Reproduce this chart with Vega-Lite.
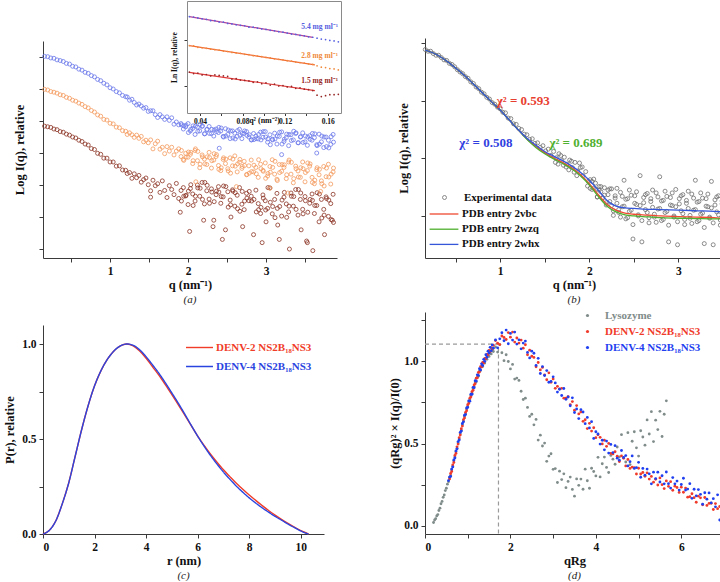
{
"$schema":"https://vega.github.io/schema/vega-lite/v6.json",
"background":"white",
"padding":{"left":3,"top":1,"right":0,"bottom":0},
"resolve":{"scale":{"color":"independent","fill":"independent","stroke":"independent","shape":"independent","strokeDash":"independent"}},
"config":{
 "font":"Liberation Serif",
 "view":{"stroke":null},
 "axis":{"labelFont":"Liberation Serif","titleFont":"Liberation Serif","labelFontWeight":"bold","titleFontWeight":"bold","labelFontSize":11.5,"titleFontSize":12.5,"labelColor":"#111","titleColor":"#111","domainColor":"#3a3a3a","tickColor":"#3a3a3a","tickSize":4,"grid":false,"labelPadding":3,"titlePadding":2},
 "legend":{"labelFont":"Liberation Serif","labelFontWeight":"bold","labelFontSize":11,"labelColor":"#111"},
 "title":{"font":"Liberation Serif","fontSize":11,"fontWeight":"normal","fontStyle":"italic","color":"#222","orient":"bottom","offset":3}
},
"datasets":{
"a":[
{"q":0.16,"b":7.02,"o":5.99,"r":4.84},{"q":0.20,"b":7.01,"o":5.97,"r":4.82},{"q":0.24,"b":6.97,"o":5.92,"r":4.80},{"q":0.28,"b":6.96,"o":5.90,"r":4.75},{"q":0.32,"b":6.91,"o":5.87,"r":4.73},{"q":0.36,"b":6.89,"o":5.82,"r":4.67},{"q":0.40,"b":6.86,"o":5.80,"r":4.65},{"q":0.44,"b":6.80,"o":5.74,"r":4.59},{"q":0.48,"b":6.78,"o":5.71,"r":4.56},{"q":0.52,"b":6.71,"o":5.65,"r":4.50},{"q":0.56,"b":6.69,"o":5.62,"r":4.47},{"q":0.60,"b":6.62,"o":5.56,"r":4.40},{"q":0.64,"b":6.59,"o":5.52,"r":4.36},{"q":0.68,"b":6.52,"o":5.45,"r":4.28},{"q":0.72,"b":6.49,"o":5.41,"r":4.25},{"q":0.76,"b":6.42,"o":5.33,"r":4.14},{"q":0.80,"b":6.38,"o":5.28,"r":4.11},{"q":0.84,"b":6.30,"o":5.19,"r":3.99},{"q":0.88,"b":6.26,"o":5.15,"r":3.96},{"q":0.92,"b":6.18,"o":5.05,"r":3.84},{"q":0.96,"b":6.13,"o":5.03,"r":3.84},{"q":1.00,"b":6.04,"o":4.93,"r":3.72},{"q":1.04,"b":6.00,"o":4.91,"r":3.72},{"q":1.08,"b":5.92,"o":4.81,"r":3.59},{"q":1.12,"b":5.88,"o":4.79,"r":3.60},{"q":1.16,"b":5.80,"o":4.70,"r":3.47},{"q":1.20,"b":5.76,"o":4.68,"r":3.46},
{"q":1.22,"b":5.75,"o":4.58,"r":3.36},{"q":1.25,"b":5.65,"o":4.63,"r":3.39},{"q":1.28,"b":5.68,"o":4.57,"r":3.21},{"q":1.31,"b":5.58,"o":4.49,"r":3.35},{"q":1.34,"b":5.50,"o":4.56,"r":3.23},{"q":1.37,"b":5.53,"o":4.46,"r":3.30},{"q":1.40,"b":5.47,"o":4.52,"r":3.09},{"q":1.43,"b":5.40,"o":4.35,"r":3.17},{"q":1.46,"b":5.42,"o":4.40,"r":3.22},{"q":1.49,"b":5.30,"o":4.32,"r":3.01},
{"q":1.52,"b":5.32,"o":4.41,"r":2.82},{"q":1.55,"b":5.32,"o":4.13,"r":3.15},{"q":1.58,"b":5.20,"o":4.29,"r":2.98},{"q":1.61,"b":5.11,"o":4.37,"r":3.04},{"q":1.64,"b":5.20,"o":4.12,"r":2.77},{"q":1.67,"b":5.13,"o":4.18,"r":3.13},{"q":1.70,"b":5.05,"o":3.98,"r":2.83},{"q":1.73,"b":5.13,"o":4.20,"r":2.61},{"q":1.76,"b":5.02,"o":4.06,"r":2.98},{"q":1.79,"b":5.10,"o":4.18,"r":2.86},{"q":1.82,"b":4.90,"o":3.94,"r":2.70},{"q":1.85,"b":4.97,"o":4.06,"r":3.05},{"q":1.88,"b":4.88,"o":4.13,"r":2.58},{"q":1.91,"b":4.92,"o":3.89,"r":2.83},{"q":1.94,"b":4.75,"o":3.80,"r":2.92},{"q":1.97,"b":4.82,"o":3.99,"r":2.66},
{"q":2.00,"b":4.92,"o":3.87,"r":2.39},{"q":2.03,"b":4.69,"o":3.96,"r":2.89},{"q":2.06,"b":4.77,"o":3.67,"r":2.72},{"q":2.09,"b":4.58,"o":4.08,"r":2.50},{"q":2.12,"b":4.81,"o":3.76,"r":3.00},{"q":2.15,"b":4.69,"o":3.54,"r":2.65},{"q":2.18,"b":4.83,"o":3.94,"r":3.08},{"q":2.21,"b":4.60,"o":3.81,"r":2.41},{"q":2.24,"b":4.73,"o":3.64,"r":2.82},{"q":2.27,"b":4.83,"o":4.02,"r":2.56},{"q":2.30,"b":4.61,"o":3.53,"r":2.88},{"q":2.33,"b":4.53,"o":3.78,"r":1.90},{"q":2.36,"b":4.75,"o":3.89,"r":2.70},{"q":2.39,"b":4.64,"o":3.61,"r":2.95},{"q":2.42,"b":4.69,"o":3.45,"r":2.43},{"q":2.45,"b":4.52,"o":3.80,"r":2.63},{"q":2.48,"b":4.76,"o":3.67,"r":1.60},{"q":2.51,"b":4.58,"o":3.51,"r":2.79},{"q":2.54,"b":4.45,"o":3.85,"r":2.53},{"q":2.57,"b":4.69,"o":3.60,"r":2.85},{"q":2.60,"b":4.62,"o":3.91,"r":2.34},{"q":2.63,"b":4.52,"o":3.41,"r":2.68},{"q":2.66,"b":4.74,"o":3.71,"r":2.92},{"q":2.69,"b":4.45,"o":3.52,"r":2.40},{"q":2.72,"b":4.61,"o":3.74,"r":2.23},{"q":2.75,"b":4.67,"o":3.32,"r":2.74},{"q":2.78,"b":4.50,"o":3.60,"r":2.51},{"q":2.81,"b":4.41,"o":3.78,"r":2.65},{"q":2.84,"b":4.61,"o":3.41,"r":1.45},{"q":2.87,"b":4.53,"o":3.55,"r":2.84},{"q":2.90,"b":4.44,"o":3.24,"r":2.42},{"q":2.93,"b":4.65,"o":3.65,"r":2.11},{"q":2.96,"b":4.49,"o":3.46,"r":2.69},{"q":2.99,"b":4.67,"o":3.69,"r":2.51},
{"q":3.02,"b":4.34,"o":3.28,"r":2.27},{"q":3.05,"b":4.57,"o":3.58,"r":2.91},{"q":3.08,"b":4.43,"o":3.79,"r":2.10},{"q":3.11,"b":4.62,"o":3.34,"r":2.55},{"q":3.14,"b":4.28,"o":3.18,"r":2.74},{"q":3.17,"b":4.52,"o":3.64,"r":1.30},{"q":3.20,"b":4.66,"o":3.43,"r":2.03},{"q":3.23,"b":4.36,"o":3.55,"r":2.62},{"q":3.26,"b":4.48,"o":3.20,"r":2.41},{"q":3.29,"b":4.23,"o":3.72,"r":2.16},{"q":3.32,"b":4.57,"o":3.34,"r":2.75},{"q":3.35,"b":4.41,"o":3.07,"r":2.34},{"q":3.38,"b":4.61,"o":3.59,"r":2.86},{"q":3.41,"b":4.32,"o":3.44,"r":2.06},{"q":3.44,"b":4.50,"o":3.24,"r":2.55},{"q":3.47,"b":4.63,"o":3.72,"r":2.24},{"q":3.50,"b":4.35,"o":3.10,"r":2.64},{"q":3.53,"b":4.24,"o":3.45,"r":1.20},{"q":3.56,"b":4.54,"o":3.59,"r":2.43},{"q":3.59,"b":4.40,"o":3.24,"r":2.72},{"q":3.62,"b":4.48,"o":3.04,"r":2.11},{"q":3.65,"b":4.26,"o":3.48,"r":2.36},{"q":3.68,"b":4.59,"o":3.32,"r":1.85},{"q":3.71,"b":4.35,"o":3.13,"r":2.55},{"q":3.74,"b":4.17,"o":3.58,"r":2.24},{"q":3.77,"b":4.50,"o":3.26,"r":2.63},{"q":3.80,"b":4.40,"o":3.65,"r":2.02},{"q":3.83,"b":4.27,"o":3.03,"r":2.42},{"q":3.86,"b":4.58,"o":3.41,"r":2.71},
{"q":1.915,"b":4.88,"o":4.08,"r":2.50},{"q":1.945,"b":4.85,"o":3.77,"r":2.65},{"q":1.975,"b":4.87,"o":3.87,"r":2.68},{"q":2.005,"b":4.64,"o":4.03,"r":2.81},{"q":2.035,"b":4.74,"o":4.02,"r":3.01},{"q":2.065,"b":4.85,"o":3.76,"r":2.36},{"q":2.095,"b":4.84,"o":4.13,"r":2.65},{"q":2.125,"b":4.68,"o":4.05,"r":2.91},{"q":2.155,"b":4.89,"o":3.65,"r":2.90},{"q":2.185,"b":4.85,"o":3.88,"r":2.55},{"q":2.215,"b":4.60,"o":3.66,"r":3.08},{"q":2.245,"b":4.74,"o":3.88,"r":2.99},{"q":2.275,"b":4.61,"o":3.86,"r":2.43},{"q":2.305,"b":4.74,"o":3.76,"r":2.78},{"q":2.335,"b":4.72,"o":3.98,"r":2.48},{"q":2.365,"b":4.67,"o":3.95,"r":2.81},{"q":2.395,"b":4.80,"o":3.49,"r":2.78},{"q":2.425,"b":4.78,"o":3.54,"r":2.64},{"q":2.455,"b":4.50,"o":3.85,"r":2.97},{"q":2.485,"b":4.53,"o":3.81,"r":2.95},{"q":2.515,"b":4.72,"o":3.44,"r":2.31},{"q":2.545,"b":4.69,"o":3.37,"r":2.38},{"q":2.575,"b":4.47,"o":3.81,"r":2.81},{"q":2.605,"b":4.44,"o":3.59,"r":2.76},{"q":2.635,"b":4.70,"o":3.66,"r":2.26},{"q":2.665,"b":4.56,"o":3.80,"r":2.18},{"q":2.695,"b":4.61,"o":3.58,"r":2.80},{"q":2.725,"b":4.69,"o":3.61,"r":2.50},{"q":2.755,"b":4.55,"o":3.33,"r":2.59},{"q":2.785,"b":4.57,"o":3.37,"r":2.80},{"q":2.815,"b":4.41,"o":3.42,"r":2.50},{"q":2.845,"b":4.42,"o":3.62,"r":2.55},{"q":2.875,"b":4.45,"o":3.35,"r":2.16},{"q":2.905,"b":4.58,"o":3.79,"r":2.23},{"q":2.935,"b":4.41,"o":3.51,"r":2.30},{"q":2.965,"b":4.67,"o":3.43,"r":2.59},{"q":2.995,"b":4.50,"o":3.21,"r":2.22},{"q":3.025,"b":4.44,"o":3.36,"r":2.92},{"q":3.055,"b":4.26,"o":3.40,"r":2.46},{"q":3.085,"b":4.41,"o":3.55,"r":2.33},{"q":3.115,"b":4.44,"o":3.74,"r":1.98},{"q":3.145,"b":4.53,"o":3.14,"r":2.27},{"q":3.175,"b":4.65,"o":3.39,"r":2.33},{"q":3.205,"b":4.28,"o":3.64,"r":2.53},{"q":3.235,"b":4.43,"o":3.63,"r":2.77},{"q":3.265,"b":4.59,"o":3.32,"r":1.99},{"q":3.295,"b":4.58,"o":3.78,"r":2.34},{"q":3.325,"b":4.39,"o":3.71,"r":2.65},{"q":3.355,"b":4.68,"o":3.20,"r":2.64},{"q":3.385,"b":4.63,"o":3.51,"r":2.24},{"q":3.415,"b":4.32,"o":3.25,"r":2.86},{"q":3.445,"b":4.51,"o":3.54,"r":2.75},{"q":3.475,"b":4.33,"o":3.51,"r":2.10},{"q":3.505,"b":4.53,"o":3.39,"r":2.51},{"q":3.535,"b":4.50,"o":3.69,"r":2.15},{"q":3.565,"b":4.43,"o":3.66,"r":2.55},{"q":3.595,"b":4.61,"o":3.08,"r":2.52},{"q":3.625,"b":4.60,"o":3.15,"r":2.36},{"q":3.655,"b":4.23,"o":3.54,"r":2.76},{"q":3.685,"b":4.28,"o":3.49,"r":2.72},{"q":3.715,"b":4.53,"o":3.04,"r":1.97},{"q":3.745,"b":4.50,"o":2.97,"r":2.06},{"q":3.775,"b":4.20,"o":3.53,"r":2.58},{"q":3.805,"b":4.16,"o":3.25,"r":2.53},{"q":3.835,"b":4.51,"o":3.34,"r":1.92},{"q":3.865,"b":4.34,"o":3.53,"r":1.83},
{"q":2.02,"r":1.55},{"q":2.20,"r":1.90},{"q":2.44,"r":1.30},{"q":2.70,"r":1.70},{"q":2.95,"r":1.20},{"q":3.15,"r":1.75},{"q":3.30,"r":1.00},{"q":3.45,"r":1.60},{"q":3.60,"r":0.95},{"q":3.75,"r":1.45},{"q":3.85,"r":1.90},{"q":2.55,"r":2.00},{"q":1.90,"r":2.15},{"q":3.00,"r":1.85},{"q":1.52,"r":2.62},{"q":2.32,"r":1.70},{"q":3.52,"r":1.25},{"q":2.10,"o":3.10},{"q":2.62,"o":2.95},{"q":3.28,"o":2.75},{"q":3.70,"o":2.80},{"q":3.05,"o":2.90},{"q":2.40,"b":4.15},{"q":3.20,"b":3.95},{"q":3.65,"b":4.00}
],
"ai":[
{"x":0.030,"b":1.51,"o":0.88,"r":0.30},{"x":0.034,"b":1.50,"o":0.87,"r":0.27},{"x":0.038,"b":1.48,"o":0.84,"r":0.28},{"x":0.042,"b":1.46,"o":0.83,"r":0.24},{"x":0.046,"b":1.45,"o":0.82,"r":0.25},{"x":0.050,"b":1.42,"o":0.80,"r":0.22},{"x":0.054,"b":1.42,"o":0.79,"r":0.24},{"x":0.058,"b":1.39,"o":0.78,"r":0.23},{"x":0.062,"b":1.39,"o":0.76,"r":0.22},{"x":0.066,"b":1.36,"o":0.75,"r":0.21},{"x":0.070,"b":1.35,"o":0.73,"r":0.15},{"x":0.074,"b":1.33,"o":0.72,"r":0.16},{"x":0.078,"b":1.32,"o":0.71,"r":0.13},{"x":0.082,"b":1.31,"o":0.69,"r":0.12},{"x":0.086,"b":1.28,"o":0.68,"r":0.11},{"x":0.090,"b":1.28,"o":0.66,"r":0.08},{"x":0.094,"b":1.26,"o":0.65,"r":0.09},{"x":0.098,"b":1.24,"o":0.64,"r":0.05},{"x":0.102,"b":1.23,"o":0.62,"r":0.07},{"x":0.106,"b":1.21,"o":0.61,"r":0.02},{"x":0.110,"b":1.20,"o":0.59,"r":0.04},{"x":0.114,"b":1.18,"o":0.58,"r":0.00},{"x":0.118,"b":1.17,"o":0.57,"r":0.01},{"x":0.122,"b":1.15,"o":0.55,"r":-0.02},{"x":0.126,"b":1.13,"o":0.54,"r":-0.01},{"x":0.130,"b":1.12,"o":0.52,"r":-0.05},{"x":0.134,"b":1.10,"o":0.51,"r":-0.04},{"x":0.138,"b":1.09,"o":0.50,"r":-0.07},{"x":0.142,"b":1.07,"o":0.48,"r":-0.08},{"x":0.146,"b":1.06,"o":0.47,"r":-0.10},{"x":0.150,"b":1.04,"o":0.44,"r":-0.20},{"x":0.154,"b":1.02,"o":0.41,"r":-0.23},{"x":0.158,"b":1.01,"o":0.40,"r":-0.21},{"x":0.162,"b":0.99,"o":0.38,"r":-0.19},{"x":0.166,"b":0.98,"o":0.37,"r":-0.19},{"x":0.170,"b":0.96,"o":0.35,"r":-0.18}
],
"aif":[
{"s":"b","x":0.030,"v":1.507},{"s":"b","x":0.146,"v":1.059},{"s":"o","x":0.030,"v":0.876},{"s":"o","x":0.148,"v":0.461},{"s":"r","x":0.030,"v":0.297},{"s":"r","x":0.148,"v":-0.10}
],
"ail":[
{"s":"b","x":0.1525,"v":1.28,"t":"5.4 mg ml⁻¹"},{"s":"o","x":0.1525,"v":0.65,"t":"2.8 mg ml⁻¹"},{"s":"r","x":0.1525,"v":0.11,"t":"1.5 mg ml⁻¹"}
],
"b":[
{"q":0.16,"e":3.89},{"q":0.19,"e":3.86},{"q":0.22,"e":3.86},{"q":0.25,"e":3.82},{"q":0.28,"e":3.79},{"q":0.31,"e":3.79},{"q":0.34,"e":3.75},{"q":0.37,"e":3.71},{"q":0.40,"e":3.70},{"q":0.43,"e":3.65},{"q":0.46,"e":3.63},{"q":0.49,"e":3.59},{"q":0.52,"e":3.54},{"q":0.55,"e":3.50},{"q":0.58,"e":3.47},{"q":0.61,"e":3.42},{"q":0.64,"e":3.39},{"q":0.67,"e":3.33},{"q":0.70,"e":3.30},{"q":0.73,"e":3.24},{"q":0.76,"e":3.21},{"q":0.79,"e":3.15},{"q":0.82,"e":3.12},{"q":0.85,"e":3.06},{"q":0.88,"e":3.03},{"q":0.91,"e":2.97},{"q":0.94,"e":2.94},{"q":0.97,"e":2.89},{"q":1.00,"e":2.86},{"q":1.03,"e":2.80},{"q":1.06,"e":2.79},{"q":1.09,"e":2.70},{"q":1.12,"e":2.69},{"q":1.15,"e":2.60},{"q":1.18,"e":2.59},{"q":1.21,"e":2.52},{"q":1.24,"e":2.50},{"q":1.27,"e":2.42},{"q":1.30,"e":2.41},{"q":1.33,"e":2.33},{"q":1.36,"e":2.34},{"q":1.39,"e":2.26},{"q":1.42,"e":2.27},{"q":1.45,"e":2.19},{"q":1.48,"e":2.22},{"q":1.51,"e":2.13},{"q":1.54,"e":2.16},{"q":1.57,"e":2.05},{"q":1.60,"e":2.12},{"q":1.63,"e":2.01},{"q":1.66,"e":2.08},{"q":1.69,"e":1.96},{"q":1.72,"e":2.02},{"q":1.75,"e":1.90},{"q":1.78,"e":1.97},{"q":1.81,"e":1.84},{"q":1.84,"e":1.93},{"q":1.87,"e":1.78},{"q":1.90,"e":1.84},{"q":1.93,"e":1.70},{"q":1.96,"e":1.77},{"q":1.99,"e":1.60},
{"q":1.62,"e":1.93},{"q":1.65,"e":1.90},{"q":1.68,"e":2.05},{"q":1.71,"e":1.88},{"q":1.74,"e":1.85},{"q":1.77,"e":1.80},{"q":1.80,"e":1.95},{"q":1.83,"e":1.76},{"q":1.86,"e":1.70},{"q":1.89,"e":1.92},{"q":1.92,"e":1.85},{"q":1.98,"e":1.52},
{"q":2.01,"e":1.63,"e2":1.48},{"q":2.03,"e":1.46,"e2":1.60},{"q":2.05,"e":1.64,"e2":1.48},{"q":2.07,"e":1.46,"e2":1.57},{"q":2.09,"e":1.33,"e2":1.33},{"q":2.11,"e":1.51,"e2":1.45},{"q":2.13,"e":1.42,"e2":1.51},{"q":2.15,"e":1.32,"e2":1.31},{"q":2.17,"e":1.49,"e2":1.36},{"q":2.19,"e":1.23,"e2":1.19},{"q":2.21,"e":1.37,"e2":1.45},{"q":2.23,"e":1.47,"e2":1.25},{"q":2.25,"e":1.18,"e2":1.47},{"q":2.27,"e":1.01,"e2":1.09},{"q":2.29,"e":1.35,"e2":1.31},{"q":2.31,"e":1.22,"e2":1.48},{"q":2.33,"e":1.06,"e2":1.11},{"q":2.35,"e":1.41,"e2":0.98},{"q":2.37,"e":1.16,"e2":1.34},{"q":2.39,"e":1.62,"e2":1.17},{"q":2.41,"e":0.95,"e2":1.29},{"q":2.43,"e":1.30,"e2":0.97},{"q":2.45,"e":1.08,"e2":1.45},{"q":2.47,"e":1.36,"e2":1.10},{"q":2.49,"e":0.60,"e2":0.85},{"q":2.51,"e":1.22,"e2":1.35},{"q":2.53,"e":1.42,"e2":1.20},{"q":2.55,"e":1.00,"e2":1.02},{"q":2.57,"e":1.18,"e2":1.70},{"q":2.59,"e":0.55,"e2":0.92},{"q":2.61,"e":1.32,"e2":1.23},{"q":2.63,"e":1.11,"e2":1.37},{"q":2.65,"e":1.39,"e2":1.06},{"q":2.67,"e":0.97,"e2":0.88},{"q":2.69,"e":1.25,"e2":1.30},{"q":2.71,"e":1.45,"e2":1.15},{"q":2.73,"e":1.03,"e2":0.98},{"q":2.75,"e":0.89,"e2":1.40},{"q":2.77,"e":1.33,"e2":1.12},{"q":2.79,"e":1.13,"e2":1.68},{"q":2.81,"e":1.26,"e2":0.92},{"q":2.83,"e":0.94,"e2":1.27},{"q":2.85,"e":1.43,"e2":1.06},{"q":2.87,"e":1.08,"e2":1.34},{"q":2.89,"e":0.55,"e2":0.84},{"q":2.91,"e":1.32,"e2":1.19},{"q":2.93,"e":1.18,"e2":1.40},{"q":2.95,"e":1.00,"e2":0.98},{"q":2.97,"e":1.46,"e2":1.16},{"q":2.99,"e":0.90,"e2":0.50},{"q":3.01,"e":1.21,"e2":1.30},{"q":3.03,"e":1.35,"e2":1.09},{"q":3.05,"e":1.04,"e2":1.37},{"q":3.07,"e":0.85,"e2":0.94},{"q":3.09,"e":1.27,"e2":1.22},{"q":3.11,"e":1.13,"e2":1.43},{"q":3.13,"e":0.96,"e2":1.01},{"q":3.15,"e":1.38,"e2":0.87},{"q":3.17,"e":1.10,"e2":1.31},{"q":3.19,"e":1.62,"e2":1.11},{"q":3.21,"e":0.90,"e2":1.24},{"q":3.23,"e":1.25,"e2":0.92},{"q":3.25,"e":1.03,"e2":1.40},{"q":3.27,"e":1.31,"e2":1.05},{"q":3.29,"e":0.52,"e2":0.80},{"q":3.31,"e":1.17,"e2":1.30},{"q":3.33,"e":1.38,"e2":1.16},{"q":3.35,"e":0.96,"e2":0.98},{"q":3.37,"e":1.14,"e2":1.60},{"q":3.39,"e":0.50,"e2":0.88},{"q":3.41,"e":1.28,"e2":1.19},{"q":3.43,"e":1.07,"e2":1.33},{"q":3.45,"e":1.35,"e2":1.02},{"q":3.47,"e":0.93,"e2":0.84},{"q":3.49,"e":1.21,"e2":1.26}
],
"bl":[
{"q":0.16,"r":3.88,"g":3.88,"b":3.88},{"q":0.2,"r":3.86,"g":3.86,"b":3.86},{"q":0.3,"r":3.79,"g":3.79,"b":3.79},{"q":0.4,"r":3.69,"g":3.69,"b":3.69},{"q":0.5,"r":3.57,"g":3.57,"b":3.57},{"q":0.6,"r":3.44,"g":3.44,"b":3.44},{"q":0.7,"r":3.29,"g":3.29,"b":3.29},{"q":0.8,"r":3.14,"g":3.14,"b":3.14},{"q":0.9,"r":2.99,"g":2.99,"b":2.99},{"q":1.0,"r":2.84,"g":2.84,"b":2.84},{"q":1.1,"r":2.67,"g":2.67,"b":2.67},{"q":1.2,"r":2.50,"g":2.50,"b":2.50},{"q":1.3,"r":2.34,"g":2.33,"b":2.35},{"q":1.4,"r":2.21,"g":2.19,"b":2.23},{"q":1.5,"r":2.10,"g":2.08,"b":2.12},{"q":1.6,"r":2.01,"g":1.99,"b":2.04},{"q":1.7,"r":1.93,"g":1.91,"b":1.96},{"q":1.8,"r":1.84,"g":1.82,"b":1.87},{"q":1.9,"r":1.72,"g":1.70,"b":1.76},{"q":2.0,"r":1.56,"g":1.54,"b":1.62},{"q":2.1,"r":1.37,"g":1.34,"b":1.45},{"q":2.2,"r":1.20,"g":1.17,"b":1.27},{"q":2.3,"r":1.10,"g":1.07,"b":1.17},{"q":2.4,"r":1.05,"g":1.02,"b":1.14},{"q":2.5,"r":1.03,"g":1.00,"b":1.13},{"q":2.6,"r":1.02,"g":0.99,"b":1.12},{"q":2.8,"r":1.00,"g":0.97,"b":1.11},{"q":3.0,"r":0.99,"g":0.96,"b":1.10},{"q":3.2,"r":0.98,"g":0.955,"b":1.09},{"q":3.4,"r":0.97,"g":0.95,"b":1.08},{"q":3.5,"r":0.96,"g":0.95,"b":1.07}
],
"bt":[
{"q":1.26,"v":3.0,"t":"χ² = 0.593","m":"r"},{"q":0.84,"v":2.27,"t":"χ² = 0.508","m":"b"},{"q":1.85,"v":2.27,"t":"χ² = 0.689","m":"g"}
],
"c":[
{"r":0,"a":0,"b":0},{"r":0.25,"a":0.02,"b":0.02},{"r":0.5,"a":0.07,"b":0.07},{"r":0.75,"a":0.16,"b":0.16},{"r":1.0,"a":0.27,"b":0.27},{"r":1.25,"a":0.41,"b":0.41},{"r":1.5,"a":0.55,"b":0.55},{"r":1.75,"a":0.675,"b":0.675},{"r":2.0,"a":0.78,"b":0.78},{"r":2.25,"a":0.86,"b":0.86},{"r":2.5,"a":0.92,"b":0.92},{"r":2.75,"a":0.963,"b":0.963},{"r":3.0,"a":0.99,"b":0.99},{"r":3.25,"a":1.0,"b":1.0},{"r":3.5,"a":0.99,"b":0.993},{"r":3.75,"a":0.963,"b":0.969},{"r":4.0,"a":0.925,"b":0.933},{"r":4.25,"a":0.88,"b":0.89},{"r":4.5,"a":0.835,"b":0.845},{"r":4.75,"a":0.785,"b":0.795},{"r":5.0,"a":0.733,"b":0.742},{"r":5.25,"a":0.68,"b":0.688},{"r":5.5,"a":0.625,"b":0.631},{"r":5.75,"a":0.57,"b":0.572},{"r":6.0,"a":0.515,"b":0.515},{"r":6.25,"a":0.466,"b":0.462},{"r":6.5,"a":0.42,"b":0.413},{"r":6.75,"a":0.378,"b":0.368},{"r":7.0,"a":0.338,"b":0.326},{"r":7.25,"a":0.302,"b":0.288},{"r":7.5,"a":0.267,"b":0.252},{"r":7.75,"a":0.235,"b":0.22},{"r":8.0,"a":0.205,"b":0.19},{"r":8.25,"a":0.177,"b":0.163},{"r":8.5,"a":0.15,"b":0.138},{"r":8.75,"a":0.124,"b":0.115},{"r":9.0,"a":0.1,"b":0.093},{"r":9.25,"a":0.077,"b":0.073},{"r":9.5,"a":0.056,"b":0.053},{"r":9.75,"a":0.036,"b":0.034},{"r":10.0,"a":0.018,"b":0.016},{"r":10.25,"a":0.003,"b":0.002},{"r":10.3,"a":0,"b":0}
],
"d":[
{"x":0.2,"a":0.02},{"x":0.225,"a":0.035},{"x":0.25,"a":0.043},{"x":0.275,"a":0.06},{"x":0.3,"a":0.068},{"x":0.325,"a":0.093},{"x":0.35,"a":0.107},{"x":0.375,"a":0.134},{"x":0.4,"a":0.148},{"x":0.425,"a":0.173},{"x":0.45,"a":0.187},{"x":0.475,"a":0.214},{"x":0.5,"a":0.228},{"x":0.525,"a":0.253},{"x":0.55,"a":0.268,"c":0.275},
{"x":0.575,"a":0.293,"b":0.285,"c":0.296},{"x":0.6,"a":0.306,"b":0.318,"c":0.30},{"x":0.625,"a":0.34,"b":0.33,"c":0.345},{"x":0.65,"a":0.36,"b":0.37,"c":0.358},{"x":0.675,"a":0.395,"b":0.385,"c":0.40},{"x":0.7,"a":0.418,"b":0.428,"c":0.412},{"x":0.725,"a":0.45,"b":0.44,"c":0.455},{"x":0.75,"a":0.47,"b":0.48,"c":0.468},{"x":0.775,"a":0.505,"b":0.497,"c":0.512},{"x":0.8,"a":0.527,"b":0.536,"c":0.522},{"x":0.825,"a":0.56,"b":0.552,"c":0.568},{"x":0.85,"a":0.58,"b":0.59,"c":0.576},{"x":0.875,"a":0.615,"b":0.606,"c":0.622},{"x":0.9,"a":0.636,"b":0.646,"c":0.632},{"x":0.925,"a":0.666,"b":0.656,"c":0.672},{"x":0.95,"a":0.68,"b":0.69,"c":0.676},{"x":0.975,"a":0.71,"b":0.70,"c":0.716},{"x":1.0,"a":0.726,"b":0.736,"c":0.72},{"x":1.025,"a":0.754,"b":0.744,"c":0.76},{"x":1.05,"a":0.766,"b":0.776,"c":0.758},{"x":1.075,"a":0.794,"b":0.784,"c":0.80},{"x":1.1,"a":0.806,"b":0.816,"c":0.80},{"x":1.125,"a":0.834,"b":0.824,"c":0.842},{"x":1.15,"a":0.845,"b":0.856,"c":0.84},{"x":1.175,"a":0.874,"b":0.864,"c":0.882},{"x":1.2,"a":0.876,"b":0.897,"c":0.88},{"x":1.225,"a":0.902,"b":0.90,"c":0.918},{"x":1.25,"a":0.91,"b":0.932,"c":0.915},{"x":1.275,"a":0.94,"b":0.935,"c":0.955},{"x":1.3,"a":0.944,"b":0.967,"c":0.948},{"x":1.325,"a":0.97,"b":0.965,"c":0.985},{"x":1.35,"a":0.968,"b":0.993,"c":0.975},{"x":1.375,"a":0.995,"b":0.99,"c":1.012},{"x":1.4,"a":0.99,"b":1.018,"c":1.0},{"x":1.425,"a":1.02,"b":1.015,"c":1.04},{"x":1.45,"a":1.012,"b":1.042,"c":1.025},{"x":1.475,"a":1.04,"b":1.04,"c":1.062},{"x":1.5,"a":1.03,"b":1.067,"c":1.05},{"x":1.525,"a":1.058,"b":1.06,"c":1.085},{"x":1.55,"a":1.045,"b":1.083,"c":1.065},{"x":1.575,"a":1.072,"b":1.075,"c":1.10},{"x":1.6,"a":1.06,"b":1.098,"c":1.08},
{"x":1.65,"a":1.087,"b":1.126,"c":1.13},{"x":1.70,"a":1.056,"b":1.11,"c":1.082},{"x":1.75,"a":1.102,"b":1.102,"c":1.137},{"x":1.80,"a":1.052,"b":1.154,"c":1.174},{"x":1.85,"a":1.004,"b":1.145,"c":1.125},{"x":1.90,"a":1.04,"b":1.133,"c":1.19},{"x":1.95,"a":0.999,"b":1.175,"c":1.107},{"x":2.00,"a":0.954,"b":1.147,"c":1.17},{"x":2.05,"a":0.981,"b":1.178,"c":1.129},{"x":2.10,"a":0.892,"b":1.117,"c":1.178},{"x":2.15,"a":0.898,"b":1.142,"c":1.105},{"x":2.20,"a":0.884,"b":1.111,"c":1.131},{"x":2.25,"a":0.818,"b":1.129,"c":1.076},{"x":2.30,"a":0.768,"b":1.08,"c":1.111},{"x":2.35,"a":0.776,"b":1.101,"c":1.123},{"x":2.40,"a":0.72,"b":1.04,"c":1.054},{"x":2.45,"a":0.665,"b":1.068,"c":1.021},{"x":2.50,"a":0.678,"b":1.031,"c":1.062},{"x":2.55,"a":0.614,"b":1.024,"c":1.049},{"x":2.60,"a":0.647,"b":0.967,"c":0.975},{"x":2.65,"a":0.521,"b":0.993,"c":1.018},{"x":2.70,"a":0.551,"b":0.948,"c":0.926},{"x":2.75,"a":0.485,"b":0.963,"c":0.968},{"x":2.80,"a":0.503,"b":0.917,"c":0.914},{"x":2.85,"a":0.392,"b":0.888,"c":0.944},{"x":2.90,"a":0.424,"b":0.93,"c":0.873},{"x":2.95,"a":0.438,"b":0.873,"c":0.878},{"x":3.00,"a":0.343,"b":0.893,"c":0.906},{"x":3.05,"a":0.348,"b":0.836,"c":0.869},{"x":3.10,"a":0.263,"b":0.848,"c":0.813},{"x":3.15,"a":0.332,"b":0.833,"c":0.83},{"x":3.20,"a":0.281,"b":0.836,"c":0.792},{"x":3.25,"a":0.316,"b":0.776,"c":0.835},{"x":3.30,"a":0.232,"b":0.776,"c":0.769},{"x":3.35,"a":0.27,"b":0.785,"c":0.783},{"x":3.40,"a":0.296,"b":0.737,"c":0.73},{"x":3.45,"a":0.221,"b":0.755,"c":0.778},{"x":3.50,"a":0.18,"b":0.703,"c":0.689},{"x":3.55,"a":0.285,"b":0.731,"c":0.71},{"x":3.60,"a":0.246,"b":0.68,"c":0.652},{"x":3.65,"a":0.284,"b":0.692,"c":0.706},{"x":3.70,"a":0.222,"b":0.635,"c":0.692},{"x":3.75,"a":0.344,"b":0.645,"c":0.621},{"x":3.80,"a":0.274,"b":0.591,"c":0.659},{"x":3.85,"a":0.228,"b":0.623,"c":0.595},{"x":3.90,"a":0.35,"b":0.576,"c":0.633},{"x":3.95,"a":0.33,"b":0.596,"c":0.531},{"x":4.00,"a":0.303,"b":0.536,"c":0.572},{"x":4.05,"a":0.416,"b":0.553,"c":0.558},{"x":4.10,"a":0.297,"b":0.538,"c":0.497},{"x":4.15,"a":0.377,"b":0.498,"c":0.52},{"x":4.20,"a":0.418,"b":0.52,"c":0.462},{"x":4.25,"a":0.355,"b":0.483,"c":0.515},{"x":4.30,"a":0.324,"b":0.501,"c":0.442},{"x":4.35,"a":0.428,"b":0.44,"c":0.495},{"x":4.40,"a":0.405,"b":0.437,"c":0.445},{"x":4.45,"a":0.374,"b":0.45,"c":0.487},{"x":4.50,"a":0.479,"b":0.423,"c":0.411},{"x":4.55,"a":0.419,"b":0.391,"c":0.399},{"x":4.60,"a":0.554,"b":0.425,"c":0.458},{"x":4.65,"a":0.414,"b":0.41,"c":0.415},{"x":4.70,"a":0.388,"b":0.364,"c":0.427},{"x":4.75,"a":0.566,"b":0.403,"c":0.364},{"x":4.80,"a":0.372,"b":0.349,"c":0.39},{"x":4.85,"a":0.514,"b":0.357,"c":0.425},{"x":4.90,"a":0.572,"b":0.354,"c":0.349},{"x":4.95,"a":0.474,"b":0.315,"c":0.354},{"x":5.00,"a":0.424,"b":0.35,"c":0.386},{"x":5.05,"a":0.578,"b":0.315,"c":0.295},{"x":5.10,"a":0.54,"b":0.324,"c":0.349},{"x":5.15,"a":0.49,"b":0.301,"c":0.308},{"x":5.20,"a":0.644,"b":0.322,"c":0.345},{"x":5.25,"a":0.558,"b":0.284,"c":0.316},{"x":5.30,"a":0.694,"b":0.30,"c":0.255},{"x":5.35,"a":0.512,"b":0.265,"c":0.326},{"x":5.40,"a":0.642,"b":0.283,"c":0.287},{"x":5.45,"a":0.585,"b":0.248,"c":0.326},{"x":5.50,"a":0.696,"b":0.291,"c":0.266},{"x":5.55,"a":0.543,"b":0.25,"c":0.304},{"x":5.60,"a":0.678,"b":0.226,"c":0.255},{"x":5.65,"a":0.76,"b":0.273,"c":0.327},
{"x":5.70,"b":0.24,"c":0.256},{"x":5.75,"b":0.268,"c":0.229},{"x":5.80,"b":0.216,"c":0.293},{"x":5.85,"b":0.241,"c":0.255},{"x":5.90,"b":0.233,"c":0.272},{"x":5.95,"b":0.203,"c":0.217},{"x":6.00,"b":0.235,"c":0.251},{"x":6.05,"b":0.204,"c":0.289},{"x":6.10,"b":0.229,"c":0.217},{"x":6.15,"b":0.174,"c":0.223},{"x":6.20,"b":0.177,"c":0.256},{"x":6.25,"b":0.195,"c":0.167},{"x":6.30,"b":0.171,"c":0.222},{"x":6.35,"b":0.143,"c":0.182},{"x":6.40,"b":0.18,"c":0.22},{"x":6.45,"b":0.17,"c":0.191},{"x":6.50,"b":0.128,"c":0.131},{"x":6.55,"b":0.172,"c":0.201},{"x":6.60,"b":0.124,"c":0.162},{"x":6.65,"b":0.136,"c":0.20},{"x":6.70,"b":0.137,"c":0.139},{"x":6.75,"b":0.099,"c":0.165},{"x":6.80,"b":0.135,"c":0.115},{"x":6.85,"b":0.104,"c":0.188},{"x":6.90,"b":0.117,"c":0.035},{"x":6.95,"b":0.098,"c":0.093},{"x":7.00,"b":0.123,"c":0.158}
],
"dref":[{"i":1,"x":0,"v":1.105},{"i":2,"x":1.72,"v":1.105},{"i":3,"x":1.72,"v":-0.05}]
},
"columns":2,
"bounds":"flush",
"align":"each",
"spacing":{"row":54,"column":88},
"concat":[
{
 "width":294,"height":257,
 "title":{"text":"(a)"},
 "resolve":{"scale":{"x":"independent","y":"independent","color":"independent"},"axis":{"x":"independent","y":"independent"}},
 "layer":[
  {
   "data":{"name":"a"},
   "transform":[{"fold":["b","o","r"],"as":["s","v"]},{"filter":"isValid(datum.v)"}],
   "mark":{"type":"point","shape":"circle","filled":false,"size":16,"strokeWidth":0.8,"opacity":1},
   "encoding":{
    "x":{"field":"q","type":"quantitative","scale":{"domain":[0.14,3.91],"nice":false,"zero":false},"axis":{"orient":"bottom","title":"q (nm⁻¹)","values":[0.5,1,1.5,2,2.5,3,3.5],"format":".0f","labelExpr":"round(datum.value) == datum.value ? datum.label : ''"}},
    "y":{"field":"v","type":"quantitative","scale":{"domain":[0.72,7.5],"range":[257,40],"nice":false,"zero":false},"axis":{"orient":"left","title":"Log I(q), relative","values":[1,2,3,4,5,6,7],"labels":false,"titlePadding":12}},
    "color":{"field":"s","type":"nominal","scale":{"domain":["b","o","r"],"range":["#6b78ea","#f49a5e","#8c3324"]},"legend":null}
   }
  },
  {
   "data":{"name":"aif"},
   "mark":{"type":"line","strokeWidth":1.2},
   "encoding":{
    "x":{"field":"x","type":"quantitative","scale":{"domain":[0.0278,0.1725],"range":[144,298],"nice":false,"zero":false},"axis":{"orient":"top","title":null,"labels":false,"ticks":false,"domainColor":"#8a8a8a"}},
    "y":{"field":"v","type":"quantitative","scale":{"domain":[-0.587,1.848],"range":[112,0],"nice":false,"zero":false},"axis":{"orient":"right","offset":4,"title":null,"labels":false,"ticks":false,"domainColor":"#8a8a8a"}},
    "color":{"field":"s","type":"nominal","scale":{"domain":["b","o","r"],"range":["#b0449a","#f26a32","#e23a3a"]},"legend":null}
   }
  },
  {
   "data":{"name":"ai"},
   "transform":[{"fold":["b","o","r"],"as":["s","v"]}],
   "mark":{"type":"point","shape":"circle","filled":true,"size":3,"opacity":1},
   "encoding":{
    "x":{"field":"x","type":"quantitative","scale":{"domain":[0.0278,0.1725],"range":[144,298],"nice":false,"zero":false},"axis":{"orient":"bottom","offset":-145,"title":"q² (nm⁻²)","values":[0.04,0.06,0.08,0.10,0.12,0.14,0.16],"format":".2f","labelExpr":"indexof(['0.04','0.08','0.12','0.16'], datum.label) >= 0 ? datum.label : ''","labelFontSize":7.5,"titleFontSize":8,"tickSize":2.5,"labelPadding":1.5,"titlePadding":-8,"domainColor":"#8a8a8a"}},
    "y":{"field":"v","type":"quantitative","scale":{"domain":[-0.587,1.848],"range":[112,0],"nice":false,"zero":false},"axis":{"orient":"left","offset":-144,"title":"Ln I(q), relative","values":[0,1],"labels":false,"tickSize":3,"titleFontSize":7.5,"titlePadding":5,"domainColor":"#8a8a8a"}},
    "color":{"field":"s","type":"nominal","scale":{"domain":["b","o","r"],"range":["#5660e0","#f08a3c","#962626"]},"legend":null}
   }
  },
  {
   "data":{"name":"ail"},
   "mark":{"type":"text","font":"Liberation Serif","fontWeight":"bold","fontSize":7.5,"align":"center","baseline":"middle"},
   "encoding":{
    "x":{"field":"x","type":"quantitative","scale":{"domain":[0.0278,0.1725],"range":[144,298],"nice":false,"zero":false},"axis":null},
    "y":{"field":"v","type":"quantitative","scale":{"domain":[-0.587,1.848],"range":[112,0],"nice":false,"zero":false},"axis":null},
    "text":{"field":"t","type":"nominal"},
    "color":{"field":"s","type":"nominal","scale":{"domain":["b","o","r"],"range":["#5660e0","#f08a3c","#962626"]},"legend":null}
   }
  }
 ]
},
{
 "width":298,"height":257,
 "title":{"text":"(b)"},
 "layer":[
  {
   "data":{"name":"b"},
   "transform":[{"fold":["e","e2"],"as":["k","v"]},{"filter":"isValid(datum.v)"}],
   "mark":{"type":"point","filled":false,"size":16,"strokeWidth":0.8,"color":"#6e6e6e","opacity":1},
   "encoding":{
    "x":{"field":"q","type":"quantitative","scale":{"domain":[0.157,3.5],"nice":false,"zero":false},"axis":{"title":"q (nm⁻¹)","values":[0.5,1,1.5,2,2.5,3,3.5],"format":".0f","labelExpr":"round(datum.value) == datum.value ? datum.label : ''"}},
    "y":{"field":"v","type":"quantitative","scale":{"domain":[0.27,4.09],"range":[257,37],"nice":false,"zero":false},"axis":{"title":"Log I(q), relative","values":[1,2,3,4],"labels":false,"titlePadding":10}},
    "shape":{"field":"k","type":"nominal","scale":{"domain":["e"],"range":["circle"]},
     "legend":{"orient":"none","legendX":14,"legendY":191,"title":null,"labelExpr":"'Experimental data'","symbolSize":16,"symbolStrokeWidth":0.8,"labelOffset":14,"labelFontSize":11}}
   }
  },
  {
   "data":{"name":"bl"},
   "transform":[{"fold":["r","g","b"],"as":["m","v"]}],
   "mark":{"type":"line","strokeWidth":1.3,"interpolate":"monotone"},
   "encoding":{
    "x":{"field":"q","type":"quantitative"},
    "y":{"field":"v","type":"quantitative"},
    "color":{"field":"m","type":"nominal","scale":{"domain":["r","g","b"],"range":["#f04a30","#4fae2e","#3556d8"]},
     "legend":{"orient":"none","legendX":12,"legendY":206,"title":null,"labelExpr":"datum.value == 'r' ? 'PDB entry 2vbc' : datum.value == 'g' ? 'PDB entry 2wzq' : 'PDB entry 2whx'","symbolType":"M-2.4,0L2.4,0","symbolSize":144,"symbolStrokeWidth":1.3,"labelOffset":11,"rowPadding":3.2,"labelFontSize":11}}
   }
  },
  {
   "data":{"name":"bt"},
   "mark":{"type":"text","font":"Liberation Serif","fontWeight":"bold","fontSize":13,"align":"center","baseline":"middle"},
   "encoding":{
    "x":{"field":"q","type":"quantitative"},
    "y":{"field":"v","type":"quantitative"},
    "text":{"field":"t","type":"nominal"},
    "fill":{"field":"m","type":"nominal","scale":{"domain":["r","b","g"],"range":["#e84030","#3040e0","#50b030"]},"legend":null}
   }
  }
 ]
},
{
 "width":281,"height":222,
 "title":{"text":"(c)"},
 "layer":[
  {
   "data":{"name":"c"},
   "transform":[{"fold":["a"],"as":["s","v"]}],
   "mark":{"type":"line","strokeWidth":1.4,"interpolate":"monotone"},
   "encoding":{
    "x":{"field":"r","type":"quantitative","scale":{"domain":[0,10.9],"nice":false,"zero":false},"axis":{"title":"r (nm)","values":[0,1,2,3,4,5,6,7,8,9,10],"labelExpr":"datum.value % 2 == 0 ? datum.label : ''"}},
    "y":{"field":"v","type":"quantitative","scale":{"domain":[0,1.1],"range":[222,13],"nice":false},"axis":{"title":"P(r), relative","values":[0,0.25,0.5,0.75,1],"format":".1f","labelExpr":"datum.value == 0 || datum.value == 0.5 || datum.value == 1 ? datum.label : ''","titlePadding":5}},
    "color":{"field":"s","type":"nominal","scale":{"domain":["a"],"range":["#f03c28"]},
     "legend":{"orient":"none","legendX":150,"legendY":29,"title":null,"labelExpr":"'DENV-2 NS2B₁₈NS3'","symbolType":"M-2.45,0L2.45,0","symbolSize":121,"symbolStrokeWidth":1.4,"labelOffset":10,"labelFontSize":11,"labelColor":"#f03c28"}}
   }
  },
  {
   "data":{"name":"c"},
   "transform":[{"fold":["b"],"as":["s","v"]}],
   "mark":{"type":"line","strokeWidth":1.4,"interpolate":"monotone","color":"#2a44e0"},
   "encoding":{
    "x":{"field":"r","type":"quantitative"},
    "y":{"field":"v","type":"quantitative"},
    "strokeDash":{"field":"s","type":"nominal","scale":{"domain":["b"],"range":[[1,0]]},
     "legend":{"orient":"none","legendX":150,"legendY":48,"title":null,"labelExpr":"'DENV-4 NS2B₁₈NS3'","symbolType":"M-2.45,0L2.45,0","symbolSize":121,"symbolStrokeWidth":1.4,"labelOffset":10,"labelFontSize":11,"labelColor":"#2a44e0"}}
   }
  }
 ]
},
{
 "width":299,"height":222,
 "title":{"text":"(d)"},
 "layer":[
  {
   "data":{"name":"dref"},
   "mark":{"type":"line","color":"#9a9a9a","strokeWidth":1.2,"strokeDash":[4,3]},
   "encoding":{
    "x":{"field":"x","type":"quantitative","scale":{"domain":[0,7],"nice":false,"zero":false},"axis":{"title":"qRg","values":[0,1,2,3,4,5,6,7],"labelExpr":"datum.value % 2 == 0 ? datum.label : ''"}},
    "y":{"field":"v","type":"quantitative","scale":{"domain":[-0.05,1.3],"nice":false,"zero":false},"axis":{"title":"(qRg)² × I(q)/I(0)","values":[0,0.25,0.5,0.75,1,1.25],"format":".1f","labelExpr":"datum.value == 0 || datum.value == 0.5 || datum.value == 1 ? datum.label : ''","titlePadding":2}},
    "order":{"field":"i","type":"quantitative"}
   }
  },
  {
   "data":{"name":"d"},
   "transform":[{"fold":["a"],"as":["s","v"]},{"filter":"isValid(datum.v)"}],
   "mark":{"type":"point","shape":"circle","filled":true,"size":8,"opacity":1},
   "encoding":{
    "x":{"field":"x","type":"quantitative"},
    "y":{"field":"v","type":"quantitative"},
    "fill":{"field":"s","type":"nominal","scale":{"domain":["a"],"range":["#7f8c8a"]},
     "legend":{"orient":"none","legendX":157,"legendY":-2,"title":null,"labelExpr":"'Lysozyme'","symbolType":"circle","symbolSize":10,"labelOffset":12,"labelFontSize":11,"labelColor":"#7f8c8a"}}
   }
  },
  {
   "data":{"name":"d"},
   "transform":[{"fold":["b"],"as":["s","v"]},{"filter":"isValid(datum.v)"}],
   "mark":{"type":"point","shape":"circle","filled":true,"size":8,"opacity":1},
   "encoding":{
    "x":{"field":"x","type":"quantitative"},
    "y":{"field":"v","type":"quantitative"},
    "color":{"field":"s","type":"nominal","scale":{"domain":["b"],"range":["#f03a2a"]},
     "legend":{"orient":"none","legendX":157,"legendY":14,"title":null,"labelExpr":"'DENV-2 NS2B₁₈NS3'","symbolType":"circle","symbolSize":10,"labelOffset":12,"labelFontSize":11,"labelColor":"#f03a2a"}}
   }
  },
  {
   "data":{"name":"d"},
   "transform":[{"fold":["c"],"as":["s","v"]},{"filter":"isValid(datum.v)"}],
   "mark":{"type":"point","filled":true,"size":8,"opacity":1,"color":"#1f3ff0"},
   "encoding":{
    "x":{"field":"x","type":"quantitative"},
    "y":{"field":"v","type":"quantitative"},
    "shape":{"field":"s","type":"nominal","scale":{"domain":["c"],"range":["circle"]},
     "legend":{"orient":"none","legendX":157,"legendY":30,"title":null,"labelExpr":"'DENV-4 NS2B₁₈NS3'","symbolType":"circle","symbolSize":10,"labelOffset":12,"labelFontSize":11,"labelColor":"#1f3ff0"}}
   }
  }
 ]
}
]
}
